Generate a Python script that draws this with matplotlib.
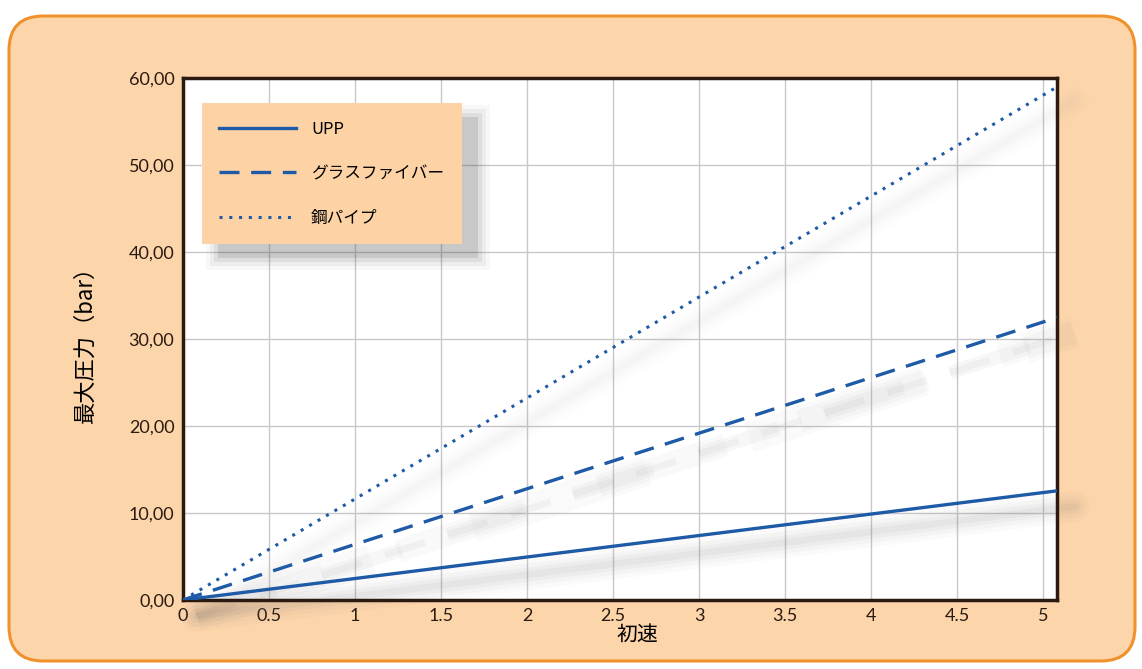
import matplotlib
matplotlib.use('Agg')
import matplotlib.pyplot as plt
from matplotlib.patches import FancyBboxPatch, Rectangle
from matplotlib.transforms import offset_copy

plt.rcParams['font.family'] = ['Lato', 'Noto Sans CJK JP', 'DejaVu Sans']

# データ
x_vals = [0, 5.1]
series_names = ['UPP', 'グラスファイバー', '鋼パイプ']
upp = [0, 12.6]
glass = [0, 32.6]
steel = [0, 59.2]
x_ticks = [0, 0.5, 1, 1.5, 2, 2.5, 3, 3.5, 4, 4.5, 5]
y_ticks = [0, 10, 20, 30, 40, 50, 60]

BG = '#FDD5AB'
EDGE = '#F0922B'
BLUE = '#1F5AA6'
JP = ['Noto Sans CJK JP', 'DejaVu Sans']

fig = plt.figure(figsize=(11.42, 6.69), dpi=100)
fig.patch.set_facecolor('white')
fig.patches.append(FancyBboxPatch((9 / 1142, 8 / 669), 1126 / 1142, 645 / 669,
                                  boxstyle='round,pad=0,rounding_size=0.03',
                                  transform=fig.transFigure, facecolor=BG,
                                  edgecolor=EDGE, linewidth=2.2, zorder=-5,
                                  mutation_aspect=1142 / 669))

ax = fig.add_axes([0.160, 0.1031, 0.7656, 0.7803])
ax.set_facecolor('white')
ax.set_xlim(0, 5.08)
ax.set_ylim(0, 60)

styles = [('-', upp, 1.0), ((0, (6, 3.5)), glass, 1.0), (':', steel, 0.3)]

# ぼかした影
for ls, y, k in styles:
    tr = offset_copy(ax.transData, fig=fig, x=14, y=-16, units='dots')
    for lw, a in [(22, 0.03), (16, 0.04), (10, 0.05), (5, 0.06)]:
        ax.plot(x_vals, y, color='#707070', lw=lw, alpha=a * k, transform=tr,
                clip_on=False, zorder=1, solid_capstyle='round',
                linestyle=ls if ls != ':' else '-')

for (ls, y, k), name in zip(styles, series_names):
    if ls == ':':
        ax.plot(x_vals, y, color=BLUE, lw=2.2, linestyle=(0, (1, 2.2)), label=name, zorder=3)
    else:
        ax.plot(x_vals, y, color=BLUE, lw=2.4, linestyle=ls, label=name, zorder=3)

ax.set_xticks(x_ticks)
ax.set_xticklabels([str(t) for t in x_ticks])
ax.set_yticks(y_ticks)
ax.set_yticklabels([f'{t},00' for t in y_ticks])
ax.tick_params(length=0, labelsize=13, colors='#2a1a10', pad=6)
ax.grid(True, color='#c8c8c8', linewidth=1)
ax.set_axisbelow(True)
for s in ax.spines.values():
    s.set_color('#2a1a10')
    s.set_linewidth(2.5)

ax.set_xlabel('初速', fontsize=15, labelpad=0, family=JP)
ax.xaxis.set_label_coords(0.52, -0.045)
ax.set_ylabel('最大圧力（bar）', fontsize=16, family=JP)
ax.yaxis.set_label_coords(-0.098, 0.5)

leg = ax.legend(loc='upper left', bbox_to_anchor=(0.022, 0.952), borderaxespad=0,
                frameon=True, fancybox=False, facecolor='#FDD3A6', edgecolor='none',
                framealpha=1, handlelength=4.6, handletextpad=0.9, labelspacing=1.65,
                borderpad=1.05, prop={'family': JP, 'size': 12})
leg.set_zorder(6)

fig.canvas.draw()
bb = leg.get_window_extent()
for grow, a in [(0, 0.12), (4, 0.08), (8, 0.05), (12, 0.03)]:
    ax.add_patch(Rectangle((bb.x0 + 16 - grow, bb.y0 - 14 - grow), bb.width + 2 * grow,
                           bb.height + 2 * grow, transform=None, facecolor='#303030',
                           alpha=a, edgecolor='none', zorder=5, clip_on=False))

fig.savefig('out.png', dpi=100)
